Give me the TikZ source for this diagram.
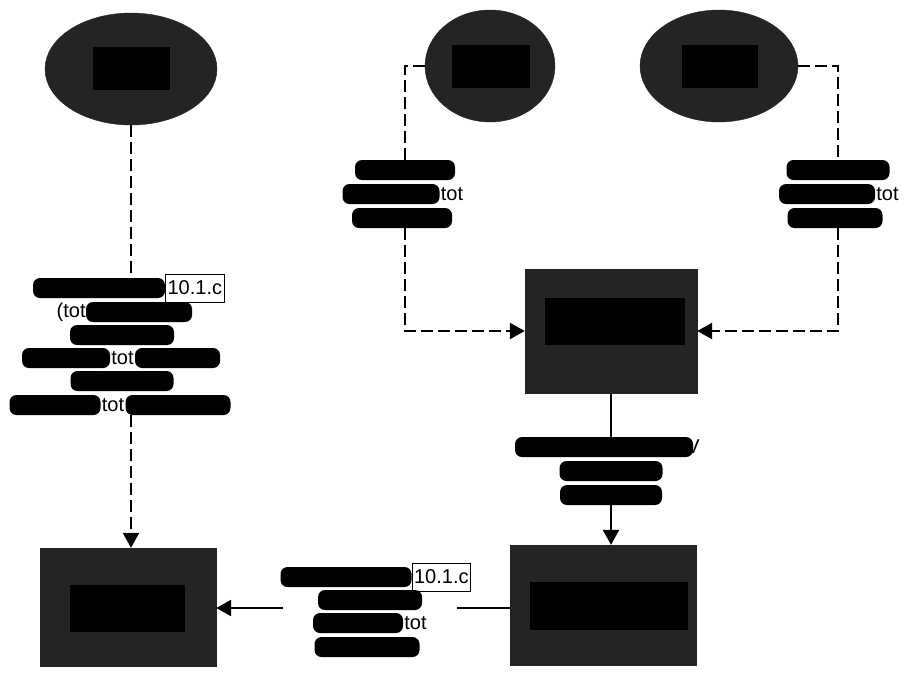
\documentclass[tikz,border=0pt]{standalone}
\usepackage{fontspec}
\setmainfont{Liberation Sans}
\usetikzlibrary{arrows.meta,shapes.geometric}
\begin{document}
\begin{tikzpicture}[x=1pt,y=-1pt,
  shadefill/.style={fill=black!86, draw=black!86},
  blk/.style={fill=black, rounded corners=7pt, minimum height=20pt, inner sep=0pt},
  tag/.style={draw=black, fill=white, line width=0.8pt, font=\fontsize{20}{20}\selectfont, inner sep=2pt, anchor=west, minimum height=28pt},
  txt/.style={font=\fontsize{20}{20}\selectfont, inner sep=0pt},
  conn/.style={line width=2.4pt},
  dsh/.style={conn, dash pattern=on 12pt off 5pt},
  arr/.style={-{Triangle[length=15pt,width=16pt]}}]
\useasboundingbox (0,0) rectangle (904,673);

% ellipses
\node[ellipse, shadefill, minimum width=172pt, minimum height=112pt, inner sep=0pt] (e1) at (131,69) {};
\node[ellipse, shadefill, minimum width=130pt, minimum height=112pt, inner sep=0pt] (e2) at (490,66) {};
\node[ellipse, shadefill, minimum width=158pt, minimum height=112pt, inner sep=0pt] (e3) at (719,66) {};
\fill[black] (93,47) rectangle (170,90);
\fill[black] (452,45) rectangle (530,88);
\fill[black] (682,45) rectangle (758,88);

% boxes
\node[rectangle, shadefill, minimum width=172pt, minimum height=124pt, inner sep=0pt] (box2) at (611,331) {};
\node[rectangle, shadefill, minimum width=176pt, minimum height=118pt, inner sep=0pt] (box1) at (128,607) {};
\node[rectangle, shadefill, minimum width=186pt, minimum height=120pt, inner sep=0pt] (box3) at (603,605) {};
\fill[black] (545,298) rectangle (685,345);
\fill[black] (70,585) rectangle (185,632);
\fill[black] (530,582) rectangle (688,630);

% left label block
\node[blk, minimum width=132pt] (l1a) at (99,288) {};
\node[tag] (t1) at (l1a.east) {10.1.c};
\node[blk, minimum width=106pt] (l1b) at (139,312) {};
\node[txt, anchor=east] (x1b) at (l1b.west) {(tot};
\node[blk, minimum width=104pt] (l1c) at (122,335) {};
\node[blk, minimum width=88pt] (l1d1) at (66,358) {};
\node[txt, anchor=west] (x1d) at ([xshift=1pt]l1d1.east) {tot};
\node[blk, minimum width=85pt, anchor=west] (l1d2) at ([xshift=1pt]x1d.east) {};
\node[blk, minimum width=103pt] (l1e) at (122,381) {};
\node[blk, minimum width=91pt] (l1f1) at (55,405) {};
\node[txt, anchor=west] (x1f) at ([xshift=1pt]l1f1.east) {tot};
\node[blk, minimum width=105pt, anchor=west] (l1f2) at ([xshift=1pt]x1f.east) {};

% label at left dashed line
\node[blk, minimum width=100pt] (l2a) at (405,170) {};
\node[blk, minimum width=97pt] (l2b) at (391,194) {};
\node[txt, anchor=west] (x2b) at ([xshift=1pt]l2b.east) {tot};
\node[blk, minimum width=100pt] (l2c) at (402,218) {};

% label at right dashed line
\node[blk, minimum width=103pt] (l3a) at (838,170) {};
\node[blk, minimum width=96pt] (l3b) at (827,194) {};
\node[txt, anchor=west] (x3b) at ([xshift=1pt]l3b.east) {tot};
\node[blk, minimum width=95pt] (l3c) at (835,218) {};

% label at vertical solid line
\node[blk, minimum width=178pt] (l4a) at (604,447) {};
\node[txt, anchor=west] (x4a) at ([xshift=-7pt]l4a.east) {V};
\node[blk, minimum width=103pt] (l4b) at (611,471) {};
\node[blk, minimum width=102pt] (l4c) at (611,495) {};

% bottom label
\node[blk, minimum width=131pt] (l5a) at (346,577) {};
\node[tag] (t5) at (l5a.east) {10.1.c};
\node[blk, minimum width=104pt] (l5b) at (370,600) {};
\node[blk, minimum width=90pt] (l5c) at (358,623) {};
\node[txt, anchor=west] (x5c) at ([xshift=1pt]l5c.east) {tot};
\node[blk, minimum width=105pt] (l5d) at (367,647) {};
\coordinate (b5l) at (283,608);
\coordinate (b5r) at (457,608);

% connectors
\draw[dsh] (e1.south) -- (e1.south |- l1a.north);
\draw[dsh, arr] (e1.south |- l1f1.south) -- (e1.south |- box1.north);

\draw[dsh] (e2.west) -| (l2a.north);
\draw[dsh, arr] (l2a.north |- l2c.south) |- (box2.west);

\draw[dsh] (e3.east) -| (l3a.north);
\draw[dsh, arr] (l3a.north |- l3c.south) |- (box2.east);

\draw[conn] (box2.south) -- (box2.south |- l4a.north);
\draw[conn, arr] (box2.south |- l4c.south) -- (box2.south |- box3.north);

\draw[conn] (box3.west |- b5r) -- (b5r);
\draw[conn, arr] (b5l) -- (box1.east |- b5l);
\end{tikzpicture}
\end{document}
